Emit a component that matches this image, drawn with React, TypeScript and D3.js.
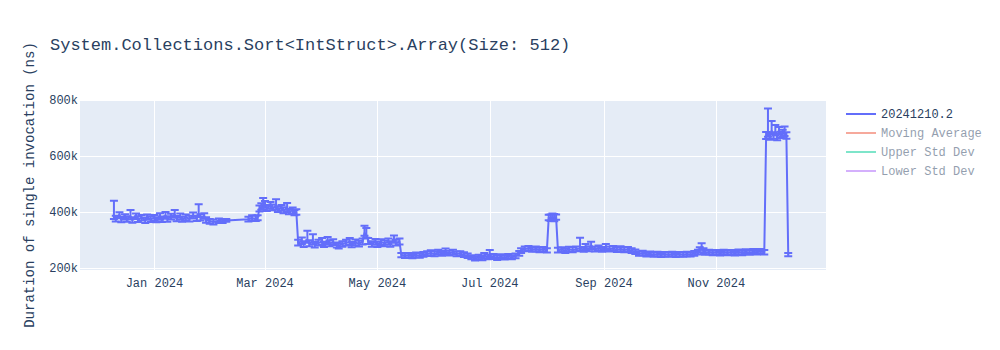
import React from "react";
import * as d3 from "d3";

const title = "System.Collections.Sort<IntStruct>.Array(Size: 512)";
const yAxisTitle = "Duration of single invocation (ns)";
const legendNames = ["20241210.2", "Moving Average", "Upper Std Dev", "Lower Std Dev"];
const legendColors = ["#636efa", "#EF553B", "#00cc96", "#ab63fa"];
const legendVisible = [true, false, false, false];

const xTickDates = ["2024-01-01", "2024-03-01", "2024-05-01", "2024-07-01", "2024-09-01", "2024-11-01"];
const xTickLabels = ["Jan 2024", "Mar 2024", "May 2024", "Jul 2024", "Sep 2024", "Nov 2024"];
const yTicks = [200, 400, 600, 800];
const yTickLabels = ["200k", "400k", "600k", "800k"];

// [date, value (thousands of ns), error plus, error minus]
const points: [string, number, number, number][] = [
  ["2023-12-10", 385, 55, 10], ["2023-12-11", 376, 11, 10], ["2023-12-13", 390, 9, 12], ["2023-12-14", 372, 11, 9],
  ["2023-12-16", 383, 9, 10], ["2023-12-17", 375, 10, 10], ["2023-12-19", 384, 23, 10], ["2023-12-20", 371, 10, 9],
  ["2023-12-22", 386, 9, 11], ["2023-12-23", 374, 11, 10], ["2023-12-25", 380, 9, 10], ["2023-12-27", 370, 10, 9],
  ["2023-12-28", 382, 9, 10], ["2023-12-30", 374, 11, 10],
  ["2024-01-01", 379, 10, 10], ["2024-01-02", 372, 9, 9], ["2024-01-04", 382, 14, 10], ["2024-01-05", 374, 10, 10],
  ["2024-01-07", 386, 14, 10], ["2024-01-08", 376, 9, 11], ["2024-01-10", 383, 11, 10], ["2024-01-12", 390, 17, 10],
  ["2024-01-13", 377, 9, 10], ["2024-01-15", 384, 11, 11], ["2024-01-16", 374, 9, 9], ["2024-01-18", 381, 10, 10],
  ["2024-01-20", 376, 11, 10], ["2024-01-22", 387, 11, 10], ["2024-01-24", 378, 9, 10], ["2024-01-25", 392, 36, 10],
  ["2024-01-26", 380, 12, 10], ["2024-01-28", 386, 10, 10], ["2024-01-29", 372, 9, 10], ["2024-01-31", 367, 8, 9],
  ["2024-02-02", 364, 9, 9], ["2024-02-05", 369, 8, 8], ["2024-02-07", 367, 6, 6], ["2024-02-09", 370, 5, 5],
  ["2024-02-21", 374, 9, 8], ["2024-02-23", 378, 10, 8], ["2024-02-25", 376, 11, 8], ["2024-02-26", 379, 9, 8],
  ["2024-02-27", 412, 11, 10], ["2024-02-28", 418, 13, 10], ["2024-02-29", 420, 30, 10],
  ["2024-03-01", 426, 13, 10], ["2024-03-02", 414, 11, 10], ["2024-03-04", 422, 14, 10], ["2024-03-05", 416, 11, 10],
  ["2024-03-07", 418, 28, 10], ["2024-03-08", 410, 11, 10], ["2024-03-10", 415, 10, 10], ["2024-03-11", 406, 11, 10],
  ["2024-03-13", 410, 22, 10], ["2024-03-14", 402, 9, 10], ["2024-03-16", 405, 11, 10], ["2024-03-17", 398, 9, 10],
  ["2024-03-18", 400, 10, 10], ["2024-03-19", 290, 11, 10], ["2024-03-21", 296, 13, 10], ["2024-03-22", 285, 11, 10],
  ["2024-03-24", 300, 33, 10], ["2024-03-25", 288, 11, 10], ["2024-03-27", 295, 26, 10], ["2024-03-28", 283, 10, 10],
  ["2024-03-30", 290, 11, 10],
  ["2024-04-01", 292, 15, 10], ["2024-04-02", 284, 10, 9], ["2024-04-04", 296, 15, 10], ["2024-04-05", 288, 10, 10],
  ["2024-04-07", 292, 11, 10], ["2024-04-09", 282, 9, 9], ["2024-04-10", 279, 9, 9], ["2024-04-12", 286, 10, 10],
  ["2024-04-14", 290, 11, 10], ["2024-04-16", 292, 15, 10], ["2024-04-17", 284, 9, 10], ["2024-04-19", 291, 11, 10],
  ["2024-04-21", 287, 10, 10], ["2024-04-23", 294, 11, 10], ["2024-04-24", 325, 26, 10], ["2024-04-25", 318, 25, 10],
  ["2024-04-26", 296, 11, 10], ["2024-04-28", 286, 10, 10], ["2024-04-30", 293, 11, 10],
  ["2024-05-01", 285, 10, 10], ["2024-05-03", 292, 11, 10], ["2024-05-05", 288, 10, 10], ["2024-05-07", 294, 11, 10],
  ["2024-05-08", 286, 10, 10], ["2024-05-10", 300, 16, 10], ["2024-05-11", 290, 11, 10], ["2024-05-13", 294, 11, 10],
  ["2024-05-14", 246, 8, 8], ["2024-05-16", 243, 8, 7], ["2024-05-18", 245, 9, 8], ["2024-05-20", 242, 8, 7],
  ["2024-05-22", 246, 9, 8], ["2024-05-24", 244, 8, 7], ["2024-05-26", 248, 9, 8], ["2024-05-28", 251, 9, 8],
  ["2024-05-30", 254, 9, 8],
  ["2024-06-01", 250, 10, 8], ["2024-06-03", 256, 9, 8], ["2024-06-05", 252, 9, 8], ["2024-06-07", 258, 12, 8],
  ["2024-06-09", 253, 9, 8], ["2024-06-11", 256, 9, 8], ["2024-06-13", 250, 9, 8], ["2024-06-15", 252, 8, 8],
  ["2024-06-17", 247, 9, 8], ["2024-06-19", 244, 8, 8], ["2024-06-21", 238, 8, 7], ["2024-06-23", 234, 8, 7],
  ["2024-06-25", 238, 9, 7], ["2024-06-27", 235, 8, 7], ["2024-06-28", 242, 12, 8], ["2024-06-30", 238, 9, 7],
  ["2024-07-01", 244, 20, 8], ["2024-07-03", 240, 10, 8], ["2024-07-05", 236, 9, 7], ["2024-07-07", 240, 9, 7],
  ["2024-07-09", 237, 8, 7], ["2024-07-11", 241, 9, 8], ["2024-07-13", 238, 8, 7], ["2024-07-15", 243, 9, 8],
  ["2024-07-17", 252, 9, 8], ["2024-07-18", 262, 9, 8], ["2024-07-20", 268, 9, 8], ["2024-07-22", 270, 9, 8],
  ["2024-07-24", 266, 8, 8], ["2024-07-26", 268, 9, 8], ["2024-07-28", 264, 8, 8], ["2024-07-30", 266, 9, 8],
  ["2024-08-01", 263, 8, 8], ["2024-08-02", 380, 10, 9], ["2024-08-03", 377, 14, 9], ["2024-08-04", 383, 12, 9],
  ["2024-08-05", 376, 17, 9], ["2024-08-06", 381, 10, 9], ["2024-08-07", 263, 9, 8], ["2024-08-09", 266, 8, 8],
  ["2024-08-11", 262, 9, 8], ["2024-08-13", 267, 9, 8], ["2024-08-15", 264, 10, 8], ["2024-08-17", 268, 9, 8],
  ["2024-08-19", 270, 38, 8], ["2024-08-21", 266, 9, 8], ["2024-08-22", 272, 14, 8], ["2024-08-24", 268, 10, 8],
  ["2024-08-25", 275, 19, 8], ["2024-08-27", 267, 9, 8], ["2024-08-29", 270, 10, 8], ["2024-08-31", 266, 9, 8],
  ["2024-09-02", 272, 14, 8], ["2024-09-04", 267, 10, 8], ["2024-09-06", 270, 9, 8], ["2024-09-08", 265, 9, 8],
  ["2024-09-10", 268, 10, 8], ["2024-09-12", 264, 9, 8], ["2024-09-14", 266, 9, 8], ["2024-09-16", 262, 9, 8],
  ["2024-09-18", 258, 8, 8], ["2024-09-20", 252, 8, 8], ["2024-09-22", 254, 8, 8], ["2024-09-24", 249, 8, 8],
  ["2024-09-26", 251, 8, 8], ["2024-09-28", 247, 8, 7], ["2024-09-30", 250, 8, 8],
  ["2024-10-02", 246, 8, 7], ["2024-10-04", 249, 8, 8], ["2024-10-06", 247, 8, 7], ["2024-10-08", 250, 8, 8],
  ["2024-10-10", 246, 8, 7], ["2024-10-12", 249, 8, 8], ["2024-10-14", 247, 8, 7], ["2024-10-16", 250, 8, 8],
  ["2024-10-18", 248, 8, 7], ["2024-10-20", 252, 9, 8], ["2024-10-22", 256, 9, 8], ["2024-10-23", 264, 10, 8],
  ["2024-10-24", 276, 12, 9], ["2024-10-25", 262, 9, 8], ["2024-10-26", 255, 8, 8], ["2024-10-28", 257, 8, 8],
  ["2024-10-30", 254, 8, 8],
  ["2024-11-01", 256, 8, 8], ["2024-11-03", 253, 8, 8], ["2024-11-05", 257, 8, 8], ["2024-11-07", 254, 8, 8],
  ["2024-11-09", 256, 8, 8], ["2024-11-11", 253, 8, 8], ["2024-11-13", 257, 9, 8], ["2024-11-15", 254, 8, 8],
  ["2024-11-17", 258, 9, 8], ["2024-11-19", 255, 8, 8], ["2024-11-21", 258, 10, 8], ["2024-11-23", 256, 8, 8],
  ["2024-11-25", 259, 9, 8], ["2024-11-27", 256, 8, 8], ["2024-11-28", 672, 14, 11], ["2024-11-29", 680, 90, 11],
  ["2024-11-30", 668, 13, 10],
  ["2024-12-01", 690, 35, 11], ["2024-12-02", 672, 13, 10], ["2024-12-03", 685, 26, 11], ["2024-12-04", 666, 13, 10],
  ["2024-12-05", 688, 16, 11], ["2024-12-06", 674, 13, 10], ["2024-12-07", 680, 14, 11], ["2024-12-08", 682, 23, 11],
  ["2024-12-09", 672, 13, 10], ["2024-12-10", 248, 6, 6],
];

const W = 1000;
const H = 350;
const plot = { left: 80, right: 826, top: 100, bottom: 270 };
const FONT = "'Liberation Mono', 'Courier New', monospace";
const TEXT = "#2a3f5f";

const parse = d3.timeParse("%Y-%m-%d");

export default function App() {
  const x = d3
    .scaleTime()
    .domain([new Date(2023, 10, 21, 14), new Date(2024, 11, 30, 12)])
    .range([plot.left, plot.right]);
  const y = d3.scaleLinear().domain([192.9, 800]).range([plot.bottom, plot.top]);

  const data = points.map(([d, v, p, m]) => ({ date: parse(d) as Date, v, p, m }));
  const line = d3
    .line<{ date: Date; v: number }>()
    .x((d) => x(d.date))
    .y((d) => y(d.v));

  const color = legendColors[0];

  return (
    <svg
      width={W}
      height={H}
      style={{ position: "absolute", left: 0, top: 0, background: "#fff" }}
      fontFamily={FONT}
    >
      <defs>
        <clipPath id="plotclip">
          <rect x={plot.left} y={plot.top} width={plot.right - plot.left} height={plot.bottom - plot.top} />
        </clipPath>
      </defs>
      <rect x={plot.left} y={plot.top} width={plot.right - plot.left} height={plot.bottom - plot.top} fill="#E5ECF6" />
      {xTickDates.map((d, i) => {
        const xx = Math.round(x(parse(d) as Date)) + 0.5;
        return <line key={"xg" + i} x1={xx} x2={xx} y1={plot.top} y2={plot.bottom} stroke="#fff" strokeWidth={1} />;
      })}
      {yTicks.map((t, i) => {
        const yy = Math.round(y(t)) + 0.5;
        return <line key={"yg" + i} x1={plot.left} x2={plot.right} y1={yy} y2={yy} stroke="#fff" strokeWidth={1} />;
      })}
      <g clipPath="url(#plotclip)">
        <path d={line(data) || ""} fill="none" stroke={color} strokeWidth={2} strokeLinejoin="round" />
        {data.map((d, i) => {
          const xx = x(d.date);
          const y1 = y(d.v + d.p);
          const y0 = y(d.v - d.m);
          return (
            <path
              key={"e" + i}
              d={`M${xx - 4},${y1}h8M${xx},${y1}V${y0}M${xx - 4},${y0}h8`}
              stroke={color}
              strokeWidth={2}
              fill="none"
            />
          );
        })}
      </g>
      {xTickDates.map((d, i) => (
        <text key={"xt" + i} x={x(parse(d) as Date)} y={287} textAnchor="middle" fontSize={12} fill={TEXT}>
          {xTickLabels[i]}
        </text>
      ))}
      {yTicks.map((t, i) => (
        <text key={"yt" + i} x={78} y={y(t) + 4} textAnchor="end" fontSize={12} fill={TEXT}>
          {yTickLabels[i]}
        </text>
      ))}
      <text x={50} y={50} fontSize={17} fill={TEXT}>
        {title}
      </text>
      <text
        transform={`translate(34,${(plot.top + plot.bottom) / 2}) rotate(-90)`}
        textAnchor="middle"
        fontSize={14}
        fill={TEXT}
      >
        {yAxisTitle}
      </text>
      {legendNames.map((n, i) => {
        const yy = 114 + i * 19;
        const op = legendVisible[i] ? 1 : 0.5;
        return (
          <g key={"lg" + i} opacity={op}>
            <line x1={846} x2={876} y1={yy} y2={yy} stroke={legendColors[i]} strokeWidth={2} />
            <text x={881} y={yy + 4} fontSize={12} fill={TEXT}>
              {n}
            </text>
          </g>
        );
      })}
    </svg>
  );
}
